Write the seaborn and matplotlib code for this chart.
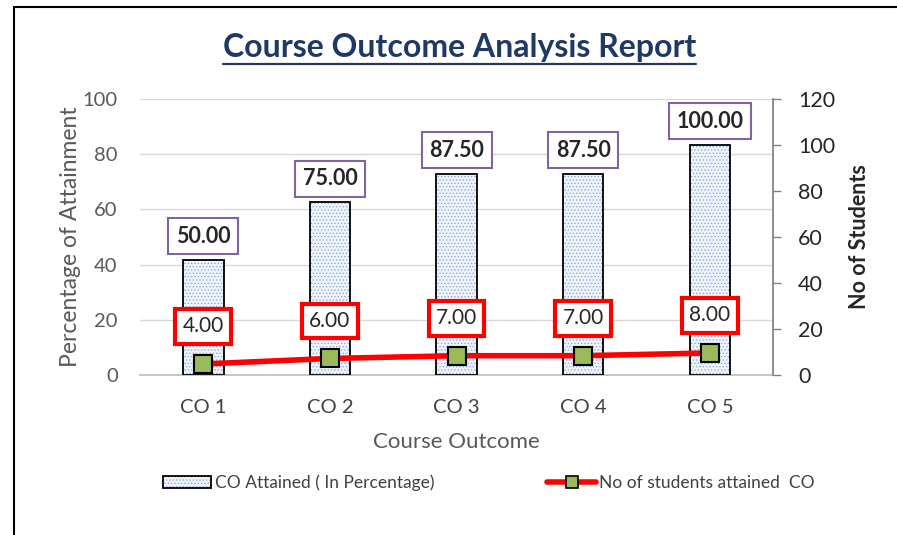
import numpy as np
import seaborn as sns
from matplotlib import pyplot as plt, patches as mpatches
from matplotlib.lines import Line2D
from matplotlib.legend_handler import HandlerTuple

courses = ["CO 1", "CO 2", "CO 3", "CO 4", "CO 5"]
attained_pct = [50.00, 75.00, 87.50, 87.50, 100.00]
students = [4.00, 6.00, 7.00, 7.00, 8.00]
left_ticks = [0, 20, 40, 60, 80, 100]
right_ticks = [0, 20, 40, 60, 80, 100, 120]

sns.set_theme(style="white")
plt.rcParams["font.family"] = ["Lato", "DejaVu Sans"]
plt.rcParams["hatch.linewidth"] = 0.6

fig = plt.figure(figsize=(8.97, 5.35), dpi=100)
ax = fig.add_axes([0.156, 0.299, 0.706, 0.516])
ax2 = ax.twinx()
ax3 = ax.twinx()

pos = np.arange(len(courses))

# left axis: grid + ticks only
ax.set_ylim(0, 100)
ax.set_yticks(left_ticks)
ax.set_yticklabels([str(t) for t in left_ticks], fontsize=14.5, color="#595959")
ax.yaxis.grid(True, color="#D9D9D9", lw=1)
ax.set_xlim(-0.5, len(courses) - 0.5)
ax.set_xticks(pos)
ax.set_xticklabels(courses, fontsize=14.5, color="#404040")
ax.tick_params(axis="y", length=0, pad=16)
ax.tick_params(axis="x", length=0, pad=17)
for s in ["left", "top", "right"]:
    ax.spines[s].set_visible(False)
ax.spines["bottom"].set_color("#BFBFBF")
ax.set_ylabel("Percentage of Attainment", fontsize=16.5, color="#595959", labelpad=1)
ax.set_xlabel("Course Outcome", fontsize=16, color="#595959", labelpad=12)

# bars on the secondary axis
sns.barplot(x=pos, y=attained_pct, ax=ax2, width=0.32, color="#EAF2FA",
            native_scale=True, linewidth=0, zorder=2)
for p in ax2.patches:
    p.set_hatch(".....")
    p.set_edgecolor("#8FAADC")
    p.set_facecolor("#EEF4FA")
sns.barplot(x=pos, y=attained_pct, ax=ax2, width=0.32, fill=False,
            native_scale=True, edgecolor="black", linewidth=1.3, zorder=3)
ax2.set_ylim(0, 120)
ax2.set_xlim(-0.5, len(courses) - 0.5)
ax2.set_yticks(right_ticks)
ax2.set_yticklabels([str(t) for t in right_ticks], fontsize=15.5, color="#262626")
ax2.tick_params(axis="y", length=6, direction="out", color="#808080", width=1, pad=12)
for s in ["left", "top", "bottom"]:
    ax2.spines[s].set_visible(False)
ax2.spines["right"].set_color("#808080")
ax2.set_ylabel("No of Students", fontsize=15.5, fontweight="bold", labelpad=10)
ax2.grid(False)

for x, v in zip(pos, attained_pct):
    ax2.annotate(f"{v:.2f}", (x, v), xytext=(0, 17), textcoords="offset points",
                 ha="center", va="center", fontsize=15.5, fontweight="bold",
                 bbox=dict(boxstyle="square,pad=0.35", fc="white", ec="#8064A2", lw=1.5),
                 zorder=5)

# line with student counts on top
sns.lineplot(x=pos, y=students, ax=ax3, color="#FF0000", lw=4, marker="s",
             markersize=13, markerfacecolor="#9BBB59", markeredgecolor="black",
             markeredgewidth=1.5, zorder=4)
ax3.set_ylim(0, 100)
ax3.set_xlim(-0.5, len(courses) - 0.5)
ax3.axis("off")
for x, v in zip(pos, students):
    ax3.annotate(f"{v:.2f}", (x, v), xytext=(0, 27), textcoords="offset points",
                 ha="center", va="center", fontsize=15,
                 bbox=dict(boxstyle="square,pad=0.35", fc="white", ec="#FF0000", lw=3),
                 zorder=6)

# title with underline
title = fig.text(0.512, 0.912, "Course Outcome Analysis Report", ha="center",
                 va="center", fontsize=23, fontweight="bold", color="#1F3864")
fig.canvas.draw()
bb = title.get_window_extent().transformed(fig.transFigure.inverted())
fig.add_artist(Line2D([bb.x0, bb.x1], [bb.y0 - 0.004, bb.y0 - 0.004],
                      color="#1F3864", lw=1.6, transform=fig.transFigure))

# legend
bar_fill = mpatches.Patch(facecolor="#EEF4FA", edgecolor="#8FAADC", hatch=".....", lw=0)
bar_edge = mpatches.Patch(facecolor="none", edgecolor="black", lw=1.3)
line_h = Line2D([], [], color="#FF0000", lw=4, marker="s", markersize=8,
                markerfacecolor="#9BBB59", markeredgecolor="black", markeredgewidth=1.2)
fig.legend([(bar_fill, bar_edge), line_h],
           ["CO Attained ( In Percentage)", "No of students attained  CO"],
           handler_map={tuple: HandlerTuple(ndivide=1)},
           loc="center", bbox_to_anchor=(0.545, 0.098), ncol=2, frameon=False,
           fontsize=12.5, columnspacing=6.5, handlelength=2.8, handletextpad=0.2,
           labelcolor="#404040")

# outer frame
fig.add_artist(mpatches.Rectangle((14 / 897, -0.1), 1.2, 1.1 - 7 / 535, fill=False,
                                  ec="black", lw=1.5, transform=fig.transFigure))

fig.savefig("out.png", dpi=100)
